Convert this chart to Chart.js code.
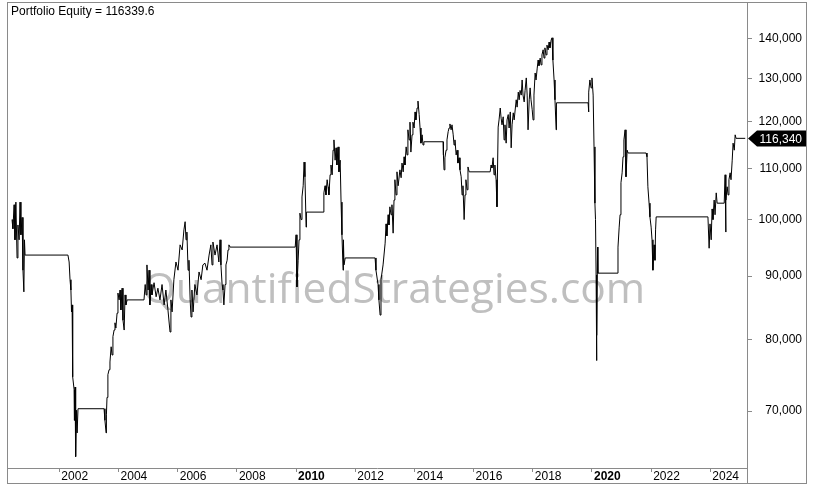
<!DOCTYPE html>
<html lang="en">
<head>
<meta charset="UTF-8">
<title>Portfolio Equity</title>
<script src="https://cdn.jsdelivr.net/npm/chart.js"></script>
<style>
  html, body { margin: 0; padding: 0; background: #fff; }
  #wrap { width: 814px; height: 489px; }
</style>
</head>
<body>
<div id="wrap"><canvas id="equityChart" width="814" height="489"></canvas></div>
<script>
// Equity curve (decimal years / account value)
const dates = [
  2000.40,2000.43,2000.47,2000.50,2000.53,2000.57,2000.60,2000.64,2000.67,2000.70,2000.74,2000.77,2000.80,2000.82,2000.84,
  2002.29,2002.33,2002.36,2002.39,2002.41,2002.43,2002.44,2002.46,2002.50,2002.51,2002.53,2002.54,2002.56,2002.58,2002.60,2002.63,
  2003.51,2003.54,2003.58,2003.59,2003.61,2003.64,2003.68,2003.71,2003.75,2003.78,2003.81,2003.85,2003.88,
  2003.91,2003.95,2003.98,2004.02,2004.05,2004.08,2004.12,2004.15,2004.19,2004.22,2004.25,2004.29,
  2004.86,2004.90,2004.93,2004.96,2005.00,2005.03,2005.06,2005.10,2005.13,2005.20,2005.27,2005.33,2005.40,2005.47,2005.54,
  2005.60,2005.67,2005.74,2005.77,2005.81,2005.87,2005.94,2006.01,2006.08,2006.15,2006.21,2006.25,2006.28,2006.31,2006.35,
  2006.38,2006.42,2006.45,2006.48,2006.52,2006.58,2006.65,2006.72,2006.79,2006.85,2006.92,2006.99,2007.06,2007.12,2007.16,
  2007.19,2007.26,2007.33,2007.39,2007.43,2007.46,2007.50,2007.53,2007.56,2007.60,2007.63,2007.67,2007.70,2007.73,2007.77,2009.97,2010.00,
  2010.03,2010.07,2010.10,2010.13,2010.17,2010.20,2010.24,2010.27,2010.30,2010.34,2010.35,2010.91,
  2010.94,2010.98,2011.01,2011.05,2011.08,2011.11,2011.15,2011.18,2011.22,2011.25,2011.28,2011.32,2011.35,2011.38,2011.42,2011.45,
  2011.49,2011.52,2011.55,2011.59,2011.60,2011.62,2011.66,2012.67,2012.70,2012.77,2012.80,
  2012.84,2012.87,2012.94,2013.01,2013.04,2013.07,2013.11,2013.14,2013.17,2013.21,2013.24,2013.28,2013.31,2013.34,2013.38,
  2013.41,2013.45,2013.51,2013.55,2013.58,2013.62,2013.65,2013.68,2013.72,2013.75,2013.78,2013.82,2013.85,2013.88,2013.92,
  2013.95,2013.99,2014.02,2014.05,2014.09,2014.12,2014.16,2014.19,2014.22,2014.26,2014.29,2014.32,
  2014.97,2014.98,2015.00,2015.03,2015.07,2015.10,2015.14,2015.17,2015.20,2015.24,2015.27,2015.31,2015.34,2015.37,2015.41,
  2015.44,2015.47,2015.51,2015.54,2015.58,2015.61,2015.64,2015.68,2015.71,2015.74,2015.78,2015.81,2015.85,2016.56,2016.59,
  2016.62,2016.66,2016.69,2016.72,2016.76,2016.79,2016.83,2016.86,2016.90,2016.93,2016.96,2017.00,2017.03,2017.06,2017.10,
  2017.13,2017.17,2017.20,2017.24,2017.27,2017.30,2017.34,2017.37,2017.44,2017.47,2017.51,2017.54,2017.57,2017.61,2017.64,
  2017.67,2017.71,2017.74,2017.78,2017.81,2017.84,2017.88,2017.91,2017.94,2017.98,2018.01,2018.04,2018.08,2018.11,2018.15,
  2018.18,2018.21,2018.25,2018.28,2018.31,2018.35,2018.38,2018.41,2018.45,2018.48,2018.52,2018.55,2018.58,2018.62,2018.65,
  2018.68,2018.72,2018.75,2018.79,2018.80,2019.87,2019.88,2019.90,2019.93,2019.97,2020.00,2020.04,2020.07,
  2020.10,2020.12,2020.14,2020.15,2020.16,2020.17,2020.19,2020.20,2020.85,2020.88,2020.92,2020.95,
  2020.98,2021.02,2021.05,2021.08,2021.12,2021.15,2021.19,2021.22,2021.83,2021.86,2021.89,2021.93,
  2021.96,2022.00,2022.03,2022.06,2022.10,2022.13,2022.15,2022.17,2023.92,2023.96,2023.99,2024.03,
  2024.06,2024.09,2024.13,2024.16,2024.20,2024.23,2024.47,2024.50,2024.52,2024.53,2024.57,2024.60,
  2024.63,2024.67,2024.70,2024.74,2024.77,2024.81,2024.84,2024.87,2025.18
];

const equity = [
  100000,98300,102800,96300,103300,93100,99000,96300,103300,97200,100400,91000,87400,96300,93600,
  93600,92400,89400,87700,84200,85300,80600,74600,72800,68800,73200,66300,64300,70100,67200,70300,
  70300,68800,67200,69500,71800,74900,75600,76700,78900,77700,80400,81400,82500,
  81700,84000,87200,86100,87700,84500,88000,82900,81400,86900,85300,86100,
  86100,88600,86900,91900,87700,91000,85300,88600,86900,88900,86600,88000,86100,88600,85300,
  87700,84500,81100,86100,84200,89400,92400,91000,95400,94500,98100,99600,96300,97700,91000,
  92700,86100,83400,87700,84200,88600,86900,90700,89400,91900,92200,91000,93600,95400,91900,
  95900,93600,95400,92400,96300,91900,88600,87700,85300,88600,91900,92700,94500,95400,95000,95000,97200,
  88200,92700,96300,101200,100000,104300,106500,111300,108300,98600,101400,101400,
  105100,106500,104700,107700,106300,104700,108700,110700,108700,113800,116000,111700,114300,110700,114500,109300,
  111700,103300,97200,91000,96300,91900,93100,93100,91000,88600,86100,
  83700,89400,91900,95700,99200,97000,100900,99000,102400,100900,102800,97500,103700,107700,104700,
  109300,106500,109700,108100,111100,109300,112400,110700,114500,112800,118200,116000,119900,113400,117100,
  119900,118600,122200,120400,123100,124700,121600,118600,115300,117100,114900,115600,
  115600,112800,109700,112200,113800,116000,117800,118600,119500,118200,119300,117100,114900,116000,112800,
  113800,111100,112200,109700,108300,104700,106500,100000,104700,107700,105700,110300,109300,109300,110700,
  110100,112200,108700,110700,107700,102400,118800,120400,123100,120800,119300,121100,116000,119300,115300,
  120400,121600,118600,122200,114300,119300,122000,120400,125000,123300,126800,125000,127200,126100,129700,
  126100,124500,127200,130200,126100,118200,125000,127800,125000,122700,120400,126100,131400,129700,132600,
  134600,133200,135100,133400,135900,137200,135100,137700,135900,138400,137200,139200,137700,139700,140300,
  134600,129700,125000,118200,124300,124300,122200,126800,129700,127800,130200,126100,114500,
  103100,100000,90200,76900,86100,80600,95000,90500,90500,95000,98600,100900,
  107100,109100,112400,116000,118200,108300,113800,113200,113200,112400,106300,103100,
  100500,98600,96300,91000,95400,92700,98100,100500,100500,94800,99200,96300,
  102000,100000,103700,100900,105100,103100,103100,108700,97700,103700,106300,104700,
  107700,109100,107700,111700,115300,113800,117100,116340,116339.6
];

const yearTicks = [2002, 2004, 2006, 2008, 2010, 2012, 2014, 2016, 2018, 2020, 2022, 2024];
const boldYears = [2010, 2020];
const equityTicks = [70000, 80000, 90000, 100000, 110000, 120000, 130000, 140000];

const FONT = '"Liberation Sans", Arial, sans-serif';
const frameColor = '#8a8a8a';

const points = dates.map((d, i) => ({ x: d, y: equity[i] }));
const lastValue = equity[equity.length - 1];

const decorations = {
    id: 'decorations',
    beforeDraw(chart) {
        const ctx = chart.ctx;
        ctx.save();
        ctx.fillStyle = '#fff';
        ctx.fillRect(0, 0, chart.width, chart.height);
        ctx.restore();
    },
    beforeDatasetsDraw(chart) {
        // watermark behind the curve
        const ctx = chart.ctx;
        const text = 'QuantifiedStrategies.com';
        ctx.save();
        ctx.font = '48px "Open Sans", sans-serif';
        const size = 48 * 502 / ctx.measureText(text).width;
        ctx.font = size.toFixed(1) + 'px "Open Sans", sans-serif';
        ctx.fillStyle = '#bfbfbf';
        ctx.textAlign = 'center';
        ctx.textBaseline = 'alphabetic';
        ctx.fillText(text, 394, 303);
        ctx.restore();
    },
    afterDraw(chart) {
        const ctx = chart.ctx;
        const yScale = chart.scales.y;
        const xScale = chart.scales.x;
        ctx.save();

        // outer frame and axis extension
        ctx.strokeStyle = frameColor;
        ctx.lineWidth = 1;
        ctx.strokeRect(7.5, 2.5, 799, 481);
        ctx.beginPath();
        ctx.moveTo(yScale.left + 0.5, 2);
        ctx.lineTo(yScale.left + 0.5, xScale.bottom);
        ctx.stroke();

        // title
        ctx.fillStyle = '#000';
        ctx.font = '12px ' + FONT;
        ctx.textAlign = 'left';
        ctx.textBaseline = 'alphabetic';
        ctx.fillText('Portfolio Equity = ' + lastValue, 11, 15);

        // last value marker
        const y = Math.round(yScale.getPixelForValue(lastValue)) + 0.5;
        const left = yScale.left;
        ctx.beginPath();
        ctx.moveTo(left + 1, y);
        ctx.lineTo(left + 10, y - 8);
        ctx.lineTo(806, y - 8);
        ctx.lineTo(806, y + 8);
        ctx.lineTo(left + 10, y + 8);
        ctx.closePath();
        ctx.fillStyle = '#000';
        ctx.fill();
        ctx.fillStyle = '#fff';
        ctx.textAlign = 'right';
        ctx.textBaseline = 'middle';
        ctx.fillText(Math.round(lastValue).toLocaleString('en-US'), 802, y + 1);
        ctx.restore();
    }
};

new Chart(document.getElementById('equityChart').getContext('2d'), {
    type: 'line',
    data: {
        datasets: [{
            data: points,
            borderColor: '#000',
            borderWidth: 1,
            pointRadius: 0,
            tension: 0,
            fill: false
        }]
    },
    options: {
        responsive: false,
        animation: false,
        devicePixelRatio: 1,
        layout: { padding: { left: 7, top: 3, right: 12, bottom: 6 } },
        plugins: {
            legend: { display: false },
            tooltip: { enabled: false }
        },
        scales: {
            x: {
                type: 'linear',
                position: 'bottom',
                min: 2000.23,
                max: 2025.24,
                afterBuildTicks: s => { s.ticks = yearTicks.map(v => ({ value: v })); },
                afterFit: s => { s.height = 15; s.paddingLeft = 0; s.paddingRight = 0; },
                border: { display: true, color: frameColor, width: 1 },
                grid: { drawOnChartArea: false, drawTicks: true, tickLength: 4, color: frameColor },
                ticks: {
                    align: 'start',
                    labelOffset: 2,
                    padding: -3,
                    maxRotation: 0,
                    autoSkip: false,
                    color: '#000',
                    font: c => ({ family: FONT, size: 12, weight: (c.tick && boldYears.includes(c.tick.value)) ? 'bold' : 'normal' }),
                    callback: v => String(v)
                }
            },
            y: {
                type: 'logarithmic',
                position: 'right',
                min: 62950,
                max: 149700,
                afterBuildTicks: s => { s.ticks = equityTicks.map(v => ({ value: v })); },
                afterFit: s => { s.width = 55; s.paddingTop = 0; s.paddingBottom = 0; },
                border: { display: true, color: frameColor, width: 1 },
                grid: { drawOnChartArea: false, drawTicks: true, tickLength: 5, color: frameColor },
                ticks: {
                    crossAlign: 'far',
                    padding: 5,
                    autoSkip: false,
                    color: '#000',
                    font: { family: FONT, size: 12 },
                    callback: v => Number(v).toLocaleString('en-US')
                }
            }
        }
    },
    plugins: [decorations]
});
</script>
</body>
</html>
